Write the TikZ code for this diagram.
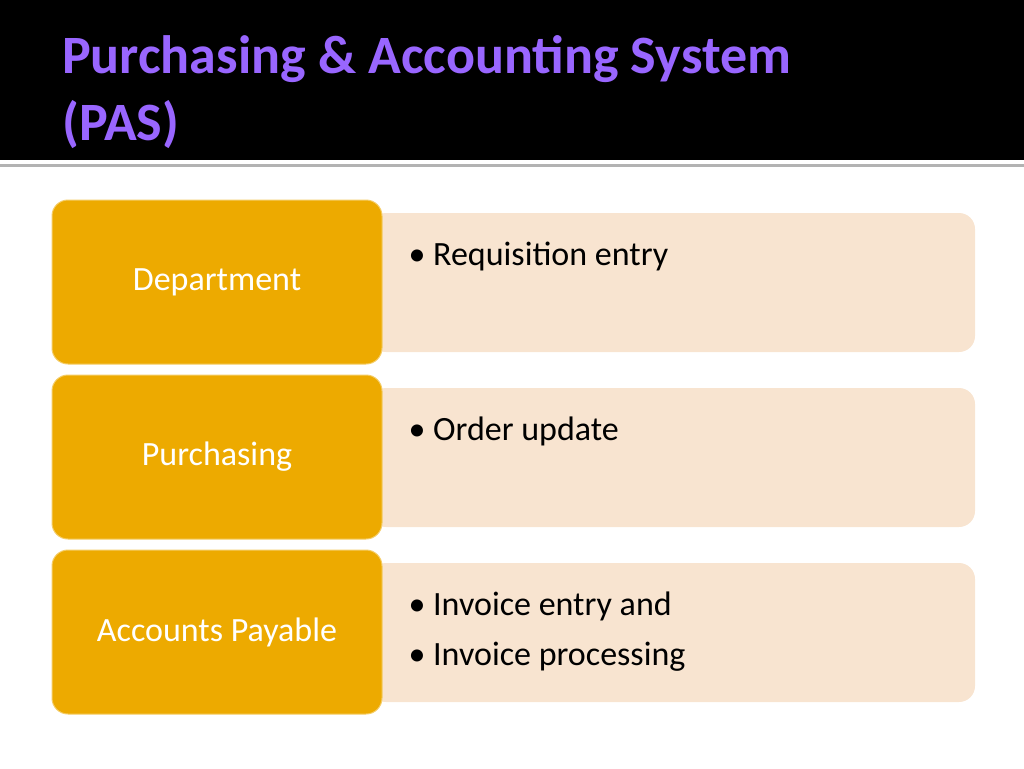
\documentclass[tikz,border=0pt]{standalone}
\usepackage{fontspec}
\setmainfont{Carlito}
\begin{document}
\begin{tikzpicture}[x=1pt,y=-1pt,
  lbox/.style={draw=gold!60!white,line width=1pt,fill=gold,rounded corners=16pt},
  rbox/.style={fill=peach,rounded corners=16pt},
  ltxt/.style={text=white,font=\fontsize{34}{40}\selectfont},
  btxt/.style={anchor=west,align=left,font=\fontsize{34}{50}\selectfont}]
\definecolor{gold}{HTML}{EDAA00}
\definecolor{peach}{HTML}{F8E4D0}
\definecolor{ttl}{HTML}{9966FF}
\useasboundingbox (0,0) rectangle (1024,768);
\fill[black] (0,0) rectangle (1024,160);
\fill[gray!60] (0,164) rectangle (1024,167);
\node[anchor=base west,text=ttl,font=\fontsize{54}{64}\selectfont\bfseries,inner sep=0] (t1) at (62,74) {Purchasing \& Accounting System};
\node[anchor=base west,text=ttl,font=\fontsize{54}{64}\selectfont\bfseries,inner sep=0] (t2) at (62,140) {(PAS)};
\foreach \y/\n in {200/a,375/b,550/c}{
  \fill[rbox] (370,\y+13) rectangle (975,\y+152);
  \draw[lbox] (52,\y) rectangle (382,\y+164);
}
\node[ltxt] (l1) at (217,282) {Department};
\node[ltxt] (l2) at (217,457) {Purchasing};
\node[ltxt] (l3) at (217,632) {Accounts Payable};
\node[btxt] (r1) at (405,256) {\textbullet\ Requisition entry};
\node[btxt] (r2) at (405,431) {\textbullet\ Order update};
\node[btxt] (r3) at (405,632) {\textbullet\ Invoice entry and\\ \textbullet\ Invoice processing};
\end{tikzpicture}
\end{document}
